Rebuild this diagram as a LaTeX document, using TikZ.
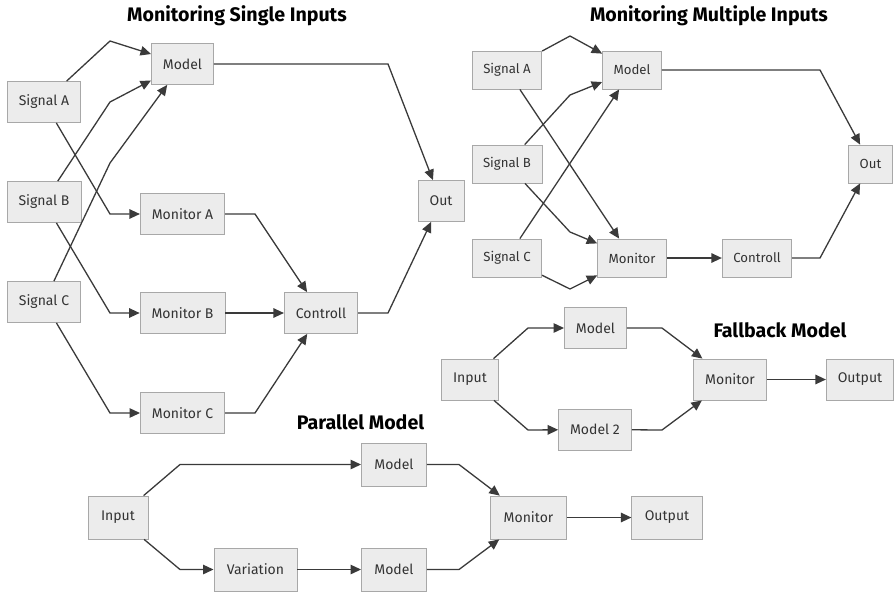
\documentclass[tikz,border=0pt]{standalone}
\usepackage{fontspec}
\setmainfont{Fira Sans}
\usetikzlibrary{arrows.meta}
\definecolor{boxfill}{HTML}{ECECEC}
\definecolor{boxline}{HTML}{A8A8A8}
\definecolor{edge}{HTML}{3A3A3A}
\definecolor{ink}{HTML}{333333}
\begin{document}
\begin{tikzpicture}[x=1pt,y=-1pt,
  box/.style={draw=boxline, fill=boxfill, line width=0.8pt, minimum height=41pt,
    inner xsep=11.5pt, text=ink, font=\fontsize{14}{16}\selectfont},
  link/.style={draw=edge, line width=1.3pt, -{Triangle[length=10.5pt,width=9.5pt]}},
  heading/.style={font=\bfseries\fontsize{19.6}{22}\selectfont, text=black}]
\useasboundingbox (0,0) rectangle (896,592);

% ---- Monitoring Single Inputs ----
\node[heading] (t1) at (237,16) {Monitoring Single Inputs};
\node[box] (s1a) at (44,102) {Signal A};
\node[box] (s1b) at (44,202) {Signal B};
\node[box] (s1c) at (44,302) {Signal C};
\node[box] (m1)  at (182.5,64) {Model};
\node[box] (ma)  at (182.5,214) {Monitor A};
\node[box] (mb)  at (182.5,313) {Monitor B};
\node[box] (mc)  at (182.5,413) {Monitor C};
\node[box] (c1)  at (321,313) {Controll};
\node[box] (o1)  at (441,201) {Out};
\draw[link] (s1a) -- (110,41) -- (m1);
\draw[link] (s1b) -- (110,102) -- (m1);
\draw[link] (s1c) -- (110,163) -- (m1);
\draw[link] (s1a) -- (110,214) -- (ma);
\draw[link] (s1b) -- (110,313) -- (mb);
\draw[link] (s1c) -- (110,413) -- (mc);
\draw[link] (ma) -- (255,214) -- (c1);
\draw[link] (mb) -- (c1);
\draw[link] (mc) -- (255,413) -- (c1);
\draw[link] (m1) -- (388,64) -- (o1);
\draw[link] (c1) -- (388,313) -- (o1);

% ---- Monitoring Multiple Inputs ----
\begin{scope}[box/.append style={minimum height=38pt, inner xsep=11pt,
    font=\fontsize{13.2}{15}\selectfont}]
\node[heading] (t2) at (709,16) {Monitoring Multiple Inputs};
\node[box] (s2a)  at (507,70) {Signal A};
\node[box] (s2b)  at (507,164) {Signal B};
\node[box] (s2c)  at (507,258) {Signal C};
\node[box] (m2)   at (632,70) {Model};
\node[box] (mon2) at (632,258) {Monitor};
\node[box] (c2)   at (757,258) {Controll};
\node[box] (o2)   at (870.5,164) {Out};
\draw[link] (s2a) -- (570,36) -- (m2);
\draw[link] (s2b) -- (570,95) -- (m2);
\draw[link] (s2c) -- (m2);
\draw[link] (s2a) -- (mon2);
\draw[link] (s2b) -- (570,232) -- (mon2);
\draw[link] (s2c) -- (570,289) -- (mon2);
\draw[link] (mon2) -- (c2);
\draw[link] (m2) -- (820,70) -- (o2);
\draw[link] (c2) -- (820,258) -- (o2);
\end{scope}

% ---- Fallback Model ----
\node[heading] (t3) at (780,330) {Fallback Model};
\node[box] (in3)  at (470,379.5) {Input};
\node[box] (m3a)  at (595.5,328) {Model};
\node[box] (m3b)  at (595,429.5) {Model 2};
\node[box] (mon3) at (730,379.5) {Monitor};
\node[box] (out3) at (860,379.5) {Output};
\draw[link] (in3) -- (528,328) -- (m3a);
\draw[link] (in3) -- (528,430) -- (m3b);
\draw[link] (m3a) -- (662,328) -- (mon3);
\draw[link] (m3b) -- (662,430) -- (mon3);
\draw[link] (mon3) -- (out3);

% ---- Parallel Model ----
\begin{scope}[box/.append style={minimum height=43pt, inner xsep=13pt,
    font=\fontsize{14}{16}\selectfont}]
\node[heading] (t4) at (360.5,422) {Parallel Model};
\node[box] (in4)  at (118,517.5) {Input};
\node[box] (m4a)  at (394,464.5) {Model};
\node[box] (var4) at (255.5,569.5) {Variation};
\node[box] (m4b)  at (394,569.5) {Model};
\node[box] (mon4) at (528.5,517.5) {Monitor};
\node[box] (out4) at (667,517.5) {Output};
\draw[link] (in4) -- (180,464.5) -- (m4a);
\draw[link] (in4) -- (180,569.5) -- (var4);
\draw[link] (var4) -- (m4b);
\draw[link] (m4a) -- (459,464.5) -- (mon4);
\draw[link] (m4b) -- (459,569.5) -- (mon4);
\draw[link] (mon4) -- (out4);
\end{scope}
\end{tikzpicture}
\end{document}
